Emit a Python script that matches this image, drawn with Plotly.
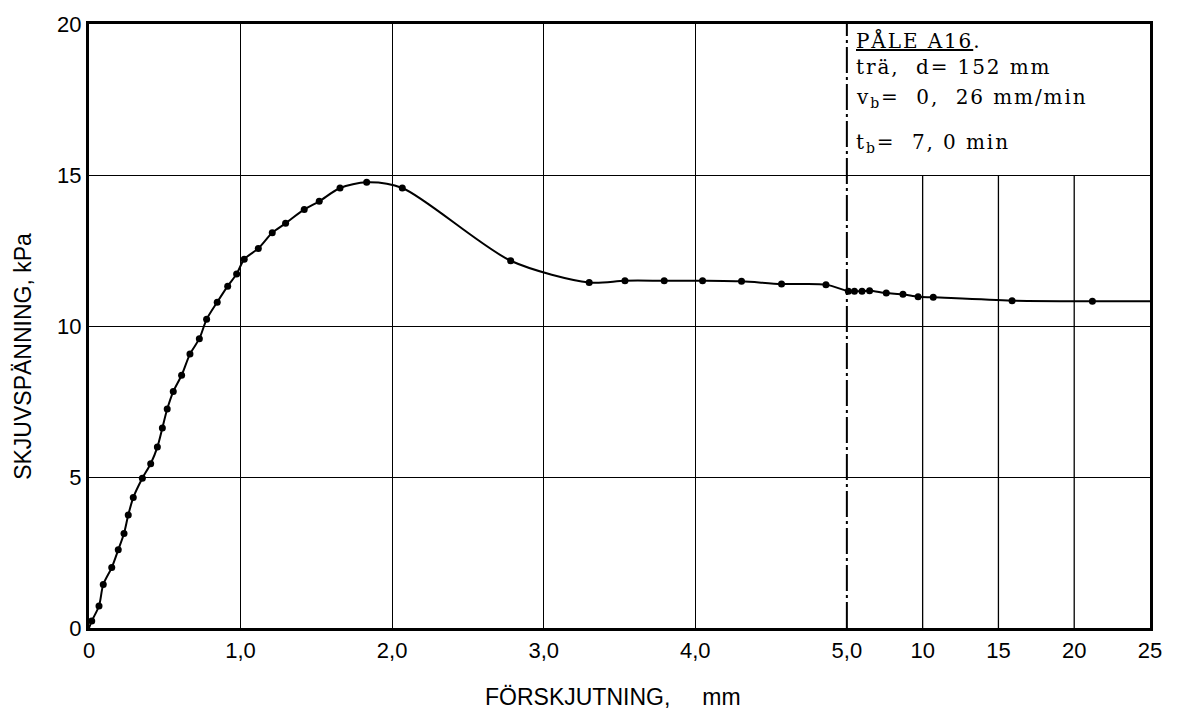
import numpy as np
import plotly.graph_objects as go

# Measured points: displacement (mm) and shear stress (kPa)
disp_mm = [0.018, 0.066, 0.094, 0.150, 0.193, 0.231, 0.259, 0.292, 0.352, 0.407,
           0.451, 0.484, 0.516, 0.556, 0.611, 0.666, 0.728, 0.776, 0.846, 0.915,
           0.974, 1.024, 1.117, 1.209, 1.297, 1.420, 1.519, 1.656, 1.832, 2.067,
           2.782, 3.300, 3.536, 3.795, 4.048, 4.305, 4.569, 4.862,
           5.1, 5.5, 6.0, 6.5, 7.6, 8.7, 9.7, 10.7, 15.9, 21.2]
stress_kpa = [0.23, 0.73, 1.44, 2.00, 2.59, 3.13, 3.74, 4.32, 4.96, 5.44,
              5.99, 6.62, 7.25, 7.83, 8.37, 9.07, 9.58, 10.22, 10.79, 11.32,
              11.72, 12.21, 12.57, 13.09, 13.40, 13.86, 14.13, 14.57, 14.76, 14.57,
              12.16, 11.44, 11.50, 11.50, 11.50, 11.48, 11.39, 11.37,
              11.15, 11.15, 11.15, 11.17, 11.09, 11.05, 10.97, 10.95, 10.84, 10.82]

# Fitted curve: starts at the origin and runs out to the end of the axis
curve_start = (0.0, 0.0)
curve_end = (25.0, 10.82)

x_ticks = [0, 1, 2, 3, 4, 5, 10, 15, 20, 25]
x_ticktext = ["0", "1,0", "2,0", "3,0", "4,0", "5,0", "10", "15", "20", "25"]
y_ticks = [0, 5, 10, 15, 20]
x_break = 5.0          # scale changes here
x_scale_after = 0.1    # compression factor beyond the break


def ax(v):
    """Map displacement in mm onto the broken (two-scale) axis."""
    v = np.asarray(v, dtype=float)
    return np.where(v <= x_break, v, x_break + (v - x_break) * x_scale_after)


curve_x = [curve_start[0]] + disp_mm + [curve_end[0]]
curve_y = [curve_start[1]] + stress_kpa + [curve_end[1]]

fig = go.Figure()
fig.add_trace(go.Scatter(
    x=ax(curve_x), y=curve_y, mode="lines",
    line=dict(color="black", width=2, shape="spline", smoothing=0.8),
    hoverinfo="skip", showlegend=False,
))
fig.add_trace(go.Scatter(
    x=ax(disp_mm), y=stress_kpa, mode="markers",
    marker=dict(color="black", size=7),
    showlegend=False,
))

# Grid lines on the compressed part stop at the 15 kPa line (under the label box)
box_bottom = y_ticks[3]
for v in x_ticks[6:9]:
    fig.add_shape(type="line", xref="x", yref="y",
                  x0=float(ax(v)), x1=float(ax(v)), y0=y_ticks[0], y1=box_bottom,
                  line=dict(color="black", width=1.3), layer="below")

# Dash-dot line marking the change of scale
fig.add_shape(type="line", xref="x", yref="y",
              x0=float(ax(x_break)), x1=float(ax(x_break)),
              y0=y_ticks[0], y1=y_ticks[-1],
              line=dict(color="black", width=2, dash="26px,4px,3px,4px"),
              layer="below")

serif = dict(family="DejaVu Serif", size=20, color="black")
sp = '<span style="letter-spacing:1.9px">{}</span>'
box_lines = [
    (sp.format("<u>PÅLE A16</u>."), 0.973),
    (sp.format("trä,\u00a0 d=\u00a0152 mm"), 0.929),
    (sp.format("v<sub>b</sub>=\u00a0 0,\u00a0 26 mm/min"), 0.877),
    (sp.format("t<sub>b</sub>=\u00a0 7,\u00a00 min"), 0.803),
]
for txt, yp in box_lines:
    fig.add_annotation(text=txt, xref="x", yref="paper",
                       x=float(ax(x_break)), xshift=7, y=yp,
                       xanchor="left", yanchor="middle",
                       showarrow=False, font=serif)

sans = dict(family="Liberation Sans", size=23, color="black")
fig.add_annotation(text="SKJUVSPÄNNING, kPa", textangle=-90,
                   xref="paper", yref="paper", x=-0.0622, y=0.449,
                   xanchor="center", yanchor="middle", showarrow=False, font=sans)
fig.add_annotation(text="FÖRSKJUTNING,\u00a0\u00a0\u00a0\u00a0 mm",
                   xref="paper", yref="paper", x=0.494, y=-0.1135,
                   xanchor="center", yanchor="middle", showarrow=False, font=sans)

tick_font = dict(family="Liberation Sans", size=22, color="black")
fig.update_xaxes(
    range=[0, float(ax(x_ticks[-1]))],
    tickmode="array", tickvals=ax(x_ticks), ticktext=x_ticktext,
    showgrid=False, zeroline=False,
    minor=dict(tickmode="array", tickvals=x_ticks[1:5], showgrid=True,
               gridcolor="black", gridwidth=1.3, ticks=""),
    showline=True, linecolor="black", linewidth=3, mirror=True,
    ticks="", ticklabelstandoff=1,
    tickfont=tick_font,
)
fig.update_yaxes(
    range=[0, 20], tickmode="array", tickvals=y_ticks,
    showgrid=True, gridcolor="black", gridwidth=1.3, zeroline=False,
    showline=True, linecolor="black", linewidth=3, mirror=True,
    ticks="", ticklabelstandoff=0,
    tickfont=tick_font,
)

fig.update_layout(
    width=1180, height=714,
    margin=dict(l=89, r=30, t=20, b=86),
    paper_bgcolor="white", plot_bgcolor="white",
    showlegend=False,
)

fig.write_html("out.html")
